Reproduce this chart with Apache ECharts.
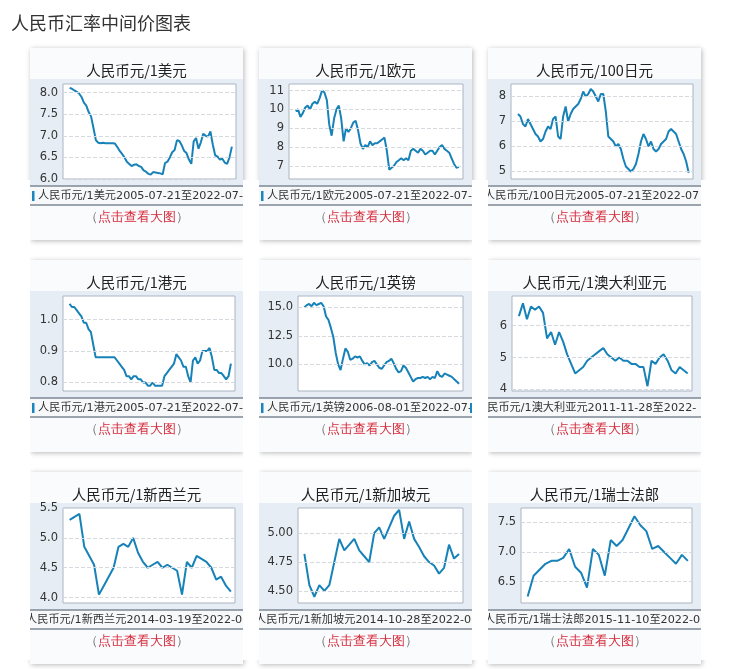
<!DOCTYPE html>
<html><head><meta charset="utf-8">
<script src="https://cdn.jsdelivr.net/npm/echarts@6/dist/echarts.min.js"></script>
<style>html,body{margin:0;padding:0;background:#fff}#c{width:750px;height:669px}</style>
</head><body><div id="c"></div>
<script>
const titles=['人民币元/1美元','人民币元/1欧元','人民币元/100日元','人民币元/1港元','人民币元/1英镑','人民币元/1澳大利亚元','人民币元/1新西兰元','人民币元/1新加坡元','人民币元/1瑞士法郎'];
const legendTexts=['人民币元/1美元2005-07-21至2022-07-15','人民币元/1欧元2005-07-21至2022-07-15','人民币元/100日元2005-07-21至2022-07-15','人民币元/1港元2005-07-21至2022-07-15','人民币元/1英镑2006-08-01至2022-07-15','人民币元/1澳大利亚元2011-11-28至2022-07-15','人民币元/1新西兰元2014-03-19至2022-07-15','人民币元/1新加坡元2014-10-28至2022-07-15','人民币元/1瑞士法郎2015-11-10至2022-07-15'];
const usd=[8.11,8.09,8.05,8.02,7.98,7.90,7.77,7.70,7.55,7.45,7.18,6.90,6.84,6.83,6.84,6.83,6.83,6.83,6.83,6.82,6.74,6.65,6.58,6.50,6.40,6.35,6.30,6.33,6.34,6.30,6.28,6.20,6.17,6.12,6.10,6.16,6.15,6.14,6.13,6.11,6.37,6.40,6.50,6.62,6.67,6.90,6.88,6.78,6.65,6.60,6.45,6.35,6.87,6.95,6.70,6.85,7.05,7.00,6.98,7.10,6.80,6.55,6.52,6.45,6.47,6.38,6.35,6.50,6.75];
const eur=[9.9,10.0,9.6,9.8,10.1,10.2,10.0,10.3,10.4,10.3,10.6,11.0,10.9,10.5,9.2,8.6,9.5,10.0,10.2,9.5,8.3,9.0,8.8,9.0,9.3,9.4,8.9,8.2,7.9,8.1,8.0,8.3,8.1,8.2,8.2,8.3,8.4,8.5,7.8,6.8,6.9,7.0,7.2,7.3,7.4,7.3,7.4,7.3,7.8,7.9,7.8,7.7,7.9,7.8,7.6,7.7,7.8,7.8,7.6,7.8,8.0,8.1,7.9,7.8,7.7,7.4,7.1,6.9,6.95];
const jpy=[7.3,7.2,6.9,6.8,7.1,6.9,6.7,6.5,6.4,6.2,6.3,6.6,6.8,6.7,7.1,7.2,6.4,6.3,7.2,7.6,7.0,7.3,7.5,7.6,7.7,7.9,8.2,8.0,8.1,8.3,8.2,8.0,7.8,8.1,8.1,7.4,6.4,6.3,6.2,6.0,6.1,5.9,5.5,5.2,5.1,5.0,5.1,5.3,5.7,6.2,6.5,6.3,6.0,6.2,5.9,5.8,5.9,6.1,6.2,6.3,6.6,6.7,6.6,6.5,6.2,5.9,5.7,5.4,4.95];
const hkd=[1.05,1.04,1.04,1.03,1.02,1.01,0.99,0.99,0.97,0.96,0.92,0.88,0.88,0.88,0.88,0.88,0.88,0.88,0.88,0.88,0.87,0.86,0.85,0.84,0.82,0.82,0.81,0.82,0.82,0.81,0.81,0.80,0.80,0.79,0.79,0.80,0.79,0.79,0.79,0.79,0.82,0.83,0.84,0.85,0.86,0.89,0.88,0.87,0.85,0.85,0.82,0.80,0.87,0.88,0.86,0.87,0.90,0.90,0.90,0.91,0.88,0.84,0.84,0.83,0.83,0.82,0.81,0.82,0.86];
const gbp=[15.0,15.2,15.3,15.1,15.4,15.2,15.3,15.4,15.1,14.2,13.9,13.2,12.4,11.0,10.0,9.5,10.5,11.4,11.1,10.4,10.5,10.7,10.6,10.7,10.3,10.0,10.1,9.9,10.2,10.3,10.0,9.7,9.6,9.9,10.2,10.3,10.5,10.1,9.6,9.3,9.4,9.9,9.7,9.3,8.9,8.5,8.7,8.8,8.8,8.9,8.8,8.9,8.7,8.9,8.8,9.4,9.0,8.9,9.2,9.1,9.0,8.9,8.7,8.5,8.3];
const aud=[6.3,6.7,6.2,6.6,6.5,6.6,6.4,5.6,5.8,5.4,5.8,5.5,5.1,4.8,4.5,4.6,4.7,4.9,5.0,5.1,5.2,5.3,5.1,5.0,4.9,5.0,4.9,4.9,4.8,4.8,4.7,4.7,4.1,4.9,4.8,5.0,5.1,4.9,4.6,4.5,4.7,4.6,4.5];
const nzd=[5.3,5.35,5.4,4.85,4.7,4.55,4.05,4.2,4.35,4.5,4.85,4.9,4.85,5.0,4.75,4.6,4.5,4.55,4.6,4.5,4.55,4.5,4.45,4.05,4.6,4.5,4.7,4.65,4.6,4.5,4.3,4.35,4.2,4.1];
const sgd=[4.82,4.55,4.45,4.55,4.5,4.55,4.75,4.95,4.85,4.9,4.95,4.85,4.8,4.75,5.0,5.05,4.95,5.05,5.15,5.2,4.95,5.1,4.95,4.88,4.8,4.75,4.72,4.65,4.7,4.9,4.78,4.82];
const chf=[6.25,6.6,6.7,6.8,6.85,6.85,6.9,7.05,6.75,6.65,6.4,7.05,6.95,6.6,7.2,7.1,7.2,7.4,7.6,7.45,7.35,7.05,7.1,7.0,6.9,6.8,6.95,6.85];
const seriesList=[usd,eur,jpy,hkd,gbp,aud,nzd,sgd,chf];
const yTicks=[[6.0,6.5,7.0,7.5,8.0],[7,8,9,10,11],[5,6,7,8],[0.8,0.9,1.0],[10,12.5,15],[4,5,6],[4.0,4.5,5.0,5.5],[4.5,4.75,5.0],[6.5,7.0,7.5]];
const yRange=[[6.0,8.2],[6.3,11.35],[4.7,8.5],[0.773,1.075],[7.66,16.0],[3.95,6.93],[3.91,5.5],[4.396,5.217],[6.14,7.74]];
const yDec=[1,0,0,1,1,0,1,2,1];
const boxX=[[63,236],[289,463],[511,693],[63,235],[298,463],[512,692],[63,235],[298,463],[521,692]];
const legendShift=[0,0,-12,0,0,-20,-12,-12,-12];

const cardX=[30,259,488], cardY=[48,260,472], CW=213, CH=192;
const graphic=[{type:'text',left:11,top:14,style:{text:'人民币汇率中间价图表',fontSize:18,fill:'#333',fontFamily:'Noto Sans CJK SC'}}];
const grids=[],xAxes=[],yAxes=[],series=[];
for(let i=0;i<9;i++){
  const cx=cardX[i%3], cy=cardY[Math.floor(i/3)];
  graphic.push({type:'rect',z:-10,shape:{x:cx,y:cy,width:CW,height:CH},style:{fill:'#fafbfc',shadowBlur:5,shadowColor:'rgba(0,0,0,0.28)',shadowOffsetX:1,shadowOffsetY:1}});
  graphic.push({type:'rect',z:-9,shape:{x:cx,y:cy+31,width:CW,height:107},style:{fill:'#e7edf5'}});
  graphic.push({type:'rect',z:-9,shape:{x:cx,y:cy+138,width:CW,height:19},style:{fill:'#f6f8fa'}});
  graphic.push({type:'line',z:-8,shape:{x1:cx,y1:cy+138,x2:cx+CW,y2:cy+138},style:{stroke:'#7d8894',lineWidth:1.5}});
  graphic.push({type:'line',z:-8,shape:{x1:cx,y1:cy+157,x2:cx+CW,y2:cy+157},style:{stroke:'#7d8894',lineWidth:1.5}});
  graphic.push({type:'text',z:5,x:cx+CW/2,y:cy+22,style:{text:titles[i],fontSize:14.5,fill:'#222',align:'center',verticalAlign:'middle',fontFamily:'Noto Sans CJK SC'}});
  const sx=cx+2+legendShift[i];
  graphic.push({type:'rect',z:5,shape:{x:sx,y:cy+143,width:2.5,height:10},style:{fill:'#1a86bd'}});
  graphic.push({type:'text',z:5,x:sx+6,y:cy+148,style:{text:legendTexts[i],width:cx+CW-sx-5,overflow:'truncate',ellipsis:'',fontSize:11.2,fill:'#333',align:'left',verticalAlign:'middle',fontFamily:'DejaVu Sans, Noto Sans CJK SC'}});
  graphic.push({type:'text',z:5,x:cx+CW/2,y:cy+170,style:{text:'{p|（}{r|点击查看大图}{p|）}',align:'center',verticalAlign:'middle',fontFamily:'Noto Sans CJK SC',rich:{p:{fill:'#777',fontSize:12.5},r:{fill:'#d42b3c',fontSize:12.5}}}});
  const b=boxX[i];
  grids.push({left:b[0],width:b[1]-b[0],top:cy+36,height:95,show:true,backgroundColor:'#fff',borderColor:'#aab5c2',borderWidth:1});
  const n=seriesList[i].length;
  xAxes.push({type:'value',gridIndex:i,min:-n*0.04,max:(n-1)+n*0.025,show:false});
  const d=yDec[i];
  yAxes.push({type:'value',gridIndex:i,min:yRange[i][0],max:yRange[i][1],splitLine:{show:false},axisLine:{show:false},axisTick:{show:false},
    axisLabel:{customValues:yTicks[i],formatter:v=>v.toFixed(d),fontSize:11.5,color:'#333',margin:5,fontFamily:'DejaVu Sans'}});
  series.push({type:'line',xAxisIndex:i,yAxisIndex:i,data:seriesList[i].map((v,k)=>[k,v]),showSymbol:false,symbol:'none',
    lineStyle:{color:'#1782b8',width:2},silent:true,animation:false,
    markLine:{silent:true,symbol:'none',label:{show:false},lineStyle:{color:'#d6d9dd',type:'dashed',width:1},data:yTicks[i].map(t=>({yAxis:t}))}});
}
[[0,30],[243,16],[472,16],[701,49]].forEach(s=>graphic.push({type:'rect',z:20,shape:{x:s[0],y:180,width:s[1],height:480},style:{fill:'#fff'}}));
const chart=echarts.init(document.getElementById('c'));
chart.setOption({animation:false,graphic,grid:grids,xAxis:xAxes,yAxis:yAxes,series});
</script></body></html>
